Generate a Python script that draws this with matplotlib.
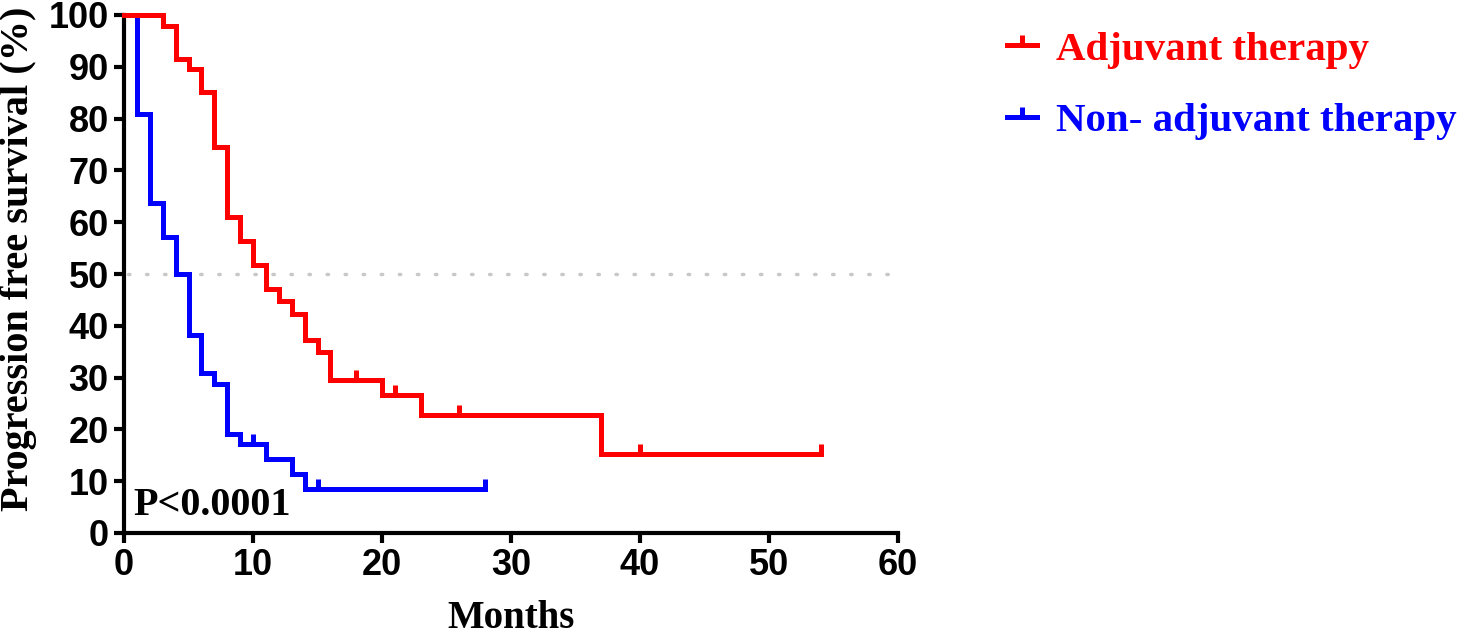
import numpy as np
import matplotlib
matplotlib.use("Agg")
import matplotlib.pyplot as plt
from matplotlib.lines import Line2D

# ---- data ----
adj_times = [0, 3, 4, 5, 6, 7, 8, 9, 10, 11, 12, 13, 14, 15, 16, 20, 23, 37]
adj_surv = [100, 97.9, 91.6, 89.5, 85.2, 74.5, 61.0, 56.4, 51.7, 47.2, 44.8, 42.3, 37.3, 34.9, 29.5, 26.6, 22.8, 15.2]
adj_end = 54
adj_censor = [18, 21, 26, 40, 54]

non_times = [0, 1, 2, 3, 4, 5, 6, 7, 8, 9, 11, 13, 14]
non_surv = [100, 80.9, 63.8, 57.2, 50.0, 38.3, 30.9, 28.8, 19.2, 17.2, 14.3, 11.4, 8.5]
non_end = 28
non_censor = [10, 15, 28]

x_ticks = [0, 10, 20, 30, 40, 50, 60]
y_ticks = [0, 10, 20, 30, 40, 50, 60, 70, 80, 90, 100]
labels = ["Adjuvant therapy", "Non- adjuvant therapy"]
colors = ["#ff0000", "#0000ff"]

serif = ["Liberation Serif", "DejaVu Serif"]
sans = ["Liberation Sans", "DejaVu Sans"]

fig = plt.figure(figsize=(14.76, 6.36), dpi=100)
ax = fig.add_axes([124 / 1476, 1 - 533 / 636, (898 - 124) / 1476, (533 - 15) / 636])


def surv_at(times, surv, t):
    idx = np.searchsorted(times, t, side="right") - 1
    return surv[idx]


def draw(times, surv, end, censor, color, zorder):
    x = list(times) + [end]
    y = list(surv) + [surv[-1]]
    ax.step(x, y, where="post", color=color, lw=3.6, clip_on=False, zorder=zorder,
            solid_joinstyle="miter")
    cy = [surv_at(times, surv, c) for c in censor]
    ax.plot(censor, cy, linestyle="none", marker=2, markersize=7, markeredgewidth=3.6,
            color=color, clip_on=False, zorder=zorder)


# 50% reference line
ax.axhline(50, color="#c8c8c8", lw=2.5, linestyle=(0, (0.4, 4.8)), dash_capstyle="round",
           zorder=1, xmin=0.005, xmax=0.995)

draw(non_times, non_surv, non_end, non_censor, colors[1], 3)
draw(adj_times, adj_surv, adj_end, adj_censor, colors[0], 4)

ax.set_xlim(0, 60)
ax.set_ylim(0, 100)
ax.set_xticks(x_ticks)
ax.set_yticks(y_ticks)
for s in ["top", "right"]:
    ax.spines[s].set_visible(False)
for s in ["left", "bottom"]:
    ax.spines[s].set_linewidth(3)
ax.tick_params(axis="both", which="major", direction="out", length=7, width=3,
               labelsize=26, pad=4)
for lab in ax.get_xticklabels() + ax.get_yticklabels():
    lab.set_fontfamily(sans)
    lab.set_fontweight("bold")

ax.set_xlabel("Months", fontfamily=serif, fontweight="bold", fontsize=28, labelpad=12)
ax.set_ylabel("Progression free survival (%)", fontfamily=serif, fontweight="bold", fontsize=29)
ax.yaxis.set_label_coords(-0.1125, 0.529)

ax.text(0.012, 0.035, "P<0.0001", transform=ax.transAxes, fontfamily=serif,
        fontweight="bold", fontsize=29, ha="left", va="baseline", zorder=5)

handles = [Line2D([0], [0], color=c, lw=3.6, marker=2, markersize=7, markeredgewidth=3.6)
           for c in colors]
leg = fig.legend(handles, labels, loc="upper left", bbox_to_anchor=(1007 / 1476, 1 - 31 / 636),
                 frameon=False, handlelength=0.73, handletextpad=0.46, labelspacing=0.82,
                 numpoints=1, prop={"family": serif, "weight": "bold", "size": 29.5},
                 labelcolor="linecolor", borderaxespad=0, borderpad=0)

fig.savefig("out.png", dpi=100)
